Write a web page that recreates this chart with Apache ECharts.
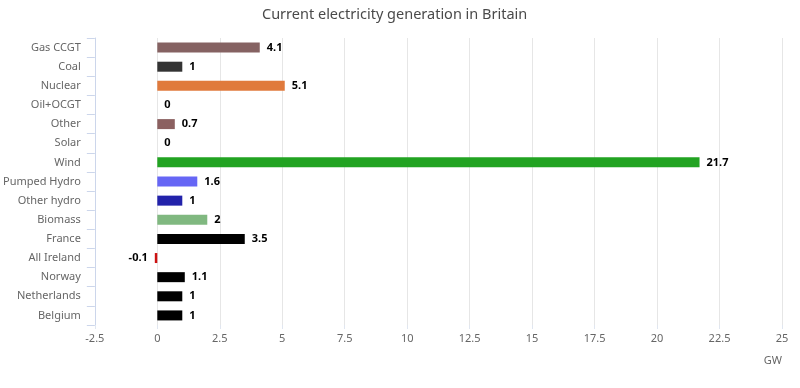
<!DOCTYPE html>
<html><head><meta charset="utf-8">
<script src="https://cdn.jsdelivr.net/npm/echarts@6/dist/echarts.min.js"></script>
<style>html,body{margin:0;padding:0;background:#fff}#c{width:800px;height:388px}</style>
</head><body><div id="c"></div>
<script>
const categories = ['Gas CCGT','Coal','Nuclear','Oil+OCGT','Other','Solar','Wind','Pumped Hydro','Other hydro','Biomass','France','All Ireland','Norway','Netherlands','Belgium'];
const values = [4.1, 1, 5.1, 0, 0.7, 0, 21.7, 1.6, 1, 2, 3.5, -0.1, 1.1, 1, 1];
const barColors = ['#856262','#333333','#e07a3c','#8b6060','#8b6060','#e0c040','#22a322','#6666f5','#2222aa','#80b880','#000000','#cc1111','#000000','#000000','#000000'];
const xTicks = [-2.5, 25, 2.5];

const font = 'Noto Sans, sans-serif';
const chart = echarts.init(document.getElementById('c'));
chart.setOption({
  animation: false,
  title: {
    text: 'Current electricity generation in Britain',
    left: 257, top: 2,
    textStyle: {fontFamily: font, fontSize: 14.5, fontWeight: 'normal', color: '#4a4a4a'}
  },
  grid: {left: 90, right: 18, top: 38, bottom: 63, containLabel: false},
  xAxis: {
    type: 'value', min: xTicks[0], max: xTicks[1], interval: xTicks[2],
    name: 'GW', nameLocation: 'end', nameGap: 0,
    nameTextStyle: {fontFamily: font, fontSize: 11, color: '#666', align: 'right', verticalAlign: 'top', padding: [30, 0, 0, 0]},
    axisLine: {show: false},
    axisTick: {show: true, length: 4, lineStyle: {color: '#e0e6f0'}},
    axisLabel: {fontFamily: font, fontSize: 11, color: '#666', margin: 8},
    splitLine: {show: true, lineStyle: {color: '#e6e6e6'}}
  },
  yAxis: {
    type: 'category', data: categories, inverse: true,
    axisLine: {show: true, onZero: false, lineStyle: {color: '#ccd6eb'}},
    axisTick: {show: true, length: 8, lineStyle: {color: '#ccd6eb'}},
    axisLabel: {fontFamily: font, fontSize: 11, color: '#666', margin: 14},
    splitLine: {show: false}
  },
  series: [{
    type: 'bar', barWidth: 10,
    data: values.map((v, i) => ({
      value: v,
      itemStyle: {color: barColors[i]},
      label: {position: v < 0 ? 'left' : 'right'}
    })),
    label: {show: true, fontFamily: font, fontSize: 11, fontWeight: 'bold', color: '#000', distance: 7}
  }]
});
</script></body></html>
